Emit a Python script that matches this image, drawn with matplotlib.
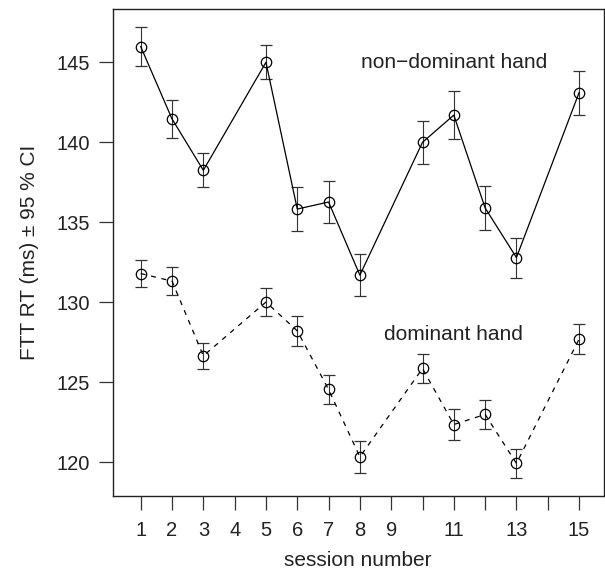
import matplotlib
matplotlib.use("Agg")
import matplotlib.pyplot as plt
import numpy as np

plt.rcParams['font.family'] = ['Liberation Sans', 'DejaVu Sans']

# sessions that have data (4, 9 and 14 are missing)
sessions = [1, 2, 3, 5, 6, 7, 8, 10, 11, 12, 13, 15]

# non-dominant hand: mean RT and half-width of the 95 % CI
nondom_mean = [145.98, 141.46, 138.25, 145.0, 135.83, 136.27, 131.7, 140.0, 141.7, 135.9, 132.8, 143.1]
nondom_ci = [1.2, 1.2, 1.07, 1.05, 1.4, 1.3, 1.33, 1.35, 1.5, 1.35, 1.25, 1.37]

# dominant hand
dom_mean = [131.8, 131.33, 126.66, 130.02, 128.22, 124.56, 120.35, 125.87, 122.37, 123.0, 119.94, 127.7]
dom_ci = [0.85, 0.9, 0.8, 0.85, 0.92, 0.9, 1.0, 0.9, 0.97, 0.9, 0.9, 0.94]

xticks = list(range(1, 16))
xticklabels = ['' if t in (10, 12, 14) else str(t) for t in xticks]
yticks = [120, 125, 130, 135, 140, 145]

fig = plt.figure(figsize=(6.05, 5.70), dpi=100)
ax = fig.add_axes([0.186, 0.13, 0.812, 0.8537])

# non-dominant hand, solid line
ax.errorbar(sessions, nondom_mean, yerr=nondom_ci, color='black', linewidth=0.9,
            elinewidth=0.8, ecolor='#333333', capsize=4.2, capthick=0.8,
            marker='o', markersize=7.5, markerfacecolor='none',
            markeredgecolor='black', markeredgewidth=0.9)

# dominant hand, dashed line
ax.errorbar(sessions, dom_mean, yerr=dom_ci, color='black', linewidth=0.9,
            linestyle=(0, (4, 4.5)), elinewidth=0.8, ecolor='#333333',
            capsize=4.2, capthick=0.8, marker='o', markersize=7.5,
            markerfacecolor='none', markeredgecolor='black', markeredgewidth=0.9)

ax.text(11, 145, 'non\u2212dominant hand', ha='center', va='center', fontsize=15, color='#222222')
ax.text(11, 128, 'dominant hand', ha='center', va='center', fontsize=15, color='#222222')

ax.set_xlim(0.1, 15.79)
ax.set_ylim(117.91, 148.31)
ax.set_xticks(xticks)
ax.set_xticklabels(xticklabels)
ax.set_yticks(yticks)

ax.tick_params(direction='out', length=10, width=0.9, labelsize=14.5,
               colors='#333333', labelcolor='#222222')
ax.tick_params(axis='x', pad=8)
ax.tick_params(axis='y', pad=6.5)
for s in ax.spines.values():
    s.set_linewidth(1.0)
    s.set_color('#222222')

ax.set_xlabel('session number', fontsize=15, color='#222222', labelpad=8)
ax.set_ylabel('FTT RT (ms) \u00b1 95 % CI', fontsize=15, color='#222222', labelpad=12)

fig.savefig('out.png', dpi=100)
